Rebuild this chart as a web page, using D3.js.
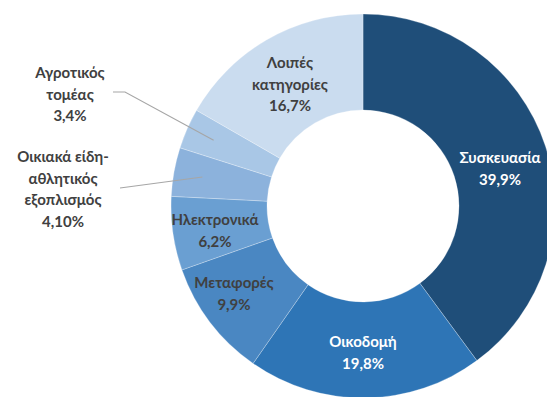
<!DOCTYPE html>
<html>
<head>
<meta charset="utf-8">
<script src="https://cdn.jsdelivr.net/npm/d3@7"></script>
<style>
  html, body { margin: 0; padding: 0; background: #fff; }
  svg { display: block; }
  text { font-family: Lato, "Open Sans", sans-serif; font-weight: 700; }
</style>
</head>
<body>
<svg id="chart" width="547" height="397"></svg>
<script>
// Sector shares (%), clockwise from 12 o'clock
const categories = ["Συσκευασία", "Οικοδομή", "Μεταφορές", "Ηλεκτρονικά",
                    "Οικιακά είδη-αθλητικός εξοπλισμός", "Αγροτικός τομέας", "Λοιπές κατηγορίες"];
const values = [39.9, 19.8, 9.9, 6.2, 4.1, 3.4, 16.7];
const valueLabels = ["39,9%", "19,8%", "9,9%", "6,2%", "4,10%", "3,4%", "16,7%"];
const labelLines = [
  ["Συσκευασία"],
  ["Οικοδομή"],
  ["Μεταφορές"],
  ["Ηλεκτρονικά"],
  ["Οικιακά είδη-", "αθλητικός", "εξοπλισμός"],
  ["Αγροτικός", "τομέας"],
  ["Λοιπές", "κατηγορίες"]
];
const colors = ["#1f4e79", "#2e75b6", "#4a87c2", "#6a9fd2", "#8cb2dc", "#a9c7e6", "#cadcef"];
const textColors = ["#ffffff", "#ffffff", "#404040", "#404040", "#404040", "#404040", "#404040"];

const svg = d3.select("#chart");
const cx = 363, cy = 206, outerR = 192, innerR = 96;

const color = d3.scaleOrdinal().domain(categories).range(colors);
const pie = d3.pie().sort(null).value(d => d.value);
const arc = d3.arc().innerRadius(innerR).outerRadius(outerR);

const data = categories.map((c, i) => ({ name: c, value: values[i], i }));
const arcs = pie(data);

const g = svg.append("g").attr("transform", `translate(${cx},${cy})`);

g.selectAll("path.slice")
  .data(arcs)
  .join("path")
  .attr("class", "slice")
  .attr("d", arc)
  .attr("fill", d => color(d.data.name))
  .attr("stroke", "rgba(255,255,255,0.45)")
  .attr("stroke-width", 0.6);

// Label placement: inside the ring for large slices, outside with a leader for small ones
const lineH = 21.5;
const placement = [
  { x: 500, y: 158, lead: null },
  { x: 363, y: 342, lead: null },
  { x: 234, y: 283, lead: null },
  { x: 215, y: 220, lead: null },
  { x: 63, y: 157, lead: { from: [120, 188], elbow: null, r: 0.7 } },
  { x: 70, y: 73, lead: { from: [113, 92], elbow: [125, 92], r: 0.7 } },
  { x: 290, y: 63, lead: null }
];

// Leader lines from the outside labels to their slices
arcs.forEach((a, i) => {
  const p = placement[i];
  if (!p.lead) return;
  const mid = (a.startAngle + a.endAngle) / 2;
  const rr = innerR + (outerR - innerR) * p.lead.r;
  const end = [cx + rr * Math.sin(mid), cy - rr * Math.cos(mid)];
  const pts = [p.lead.from];
  if (p.lead.elbow) pts.push(p.lead.elbow);
  pts.push(end);
  svg.append("path")
    .attr("d", d3.line()(pts))
    .attr("fill", "none")
    .attr("stroke", "#a6a6a6")
    .attr("stroke-width", 1.1);
});

// Category name lines followed by the share
arcs.forEach((a, i) => {
  const p = placement[i];
  const lines = labelLines[i].concat([valueLabels[i]]);
  const t = svg.append("text")
    .attr("text-anchor", "middle")
    .attr("font-size", 15)
    .attr("fill", textColors[i]);
  lines.forEach((ln, k) => {
    t.append("tspan")
      .attr("x", p.x)
      .attr("y", p.y + k * lineH)
      .attr("dy", "0.35em")
      .text(ln);
  });
});
</script>
</body>
</html>
